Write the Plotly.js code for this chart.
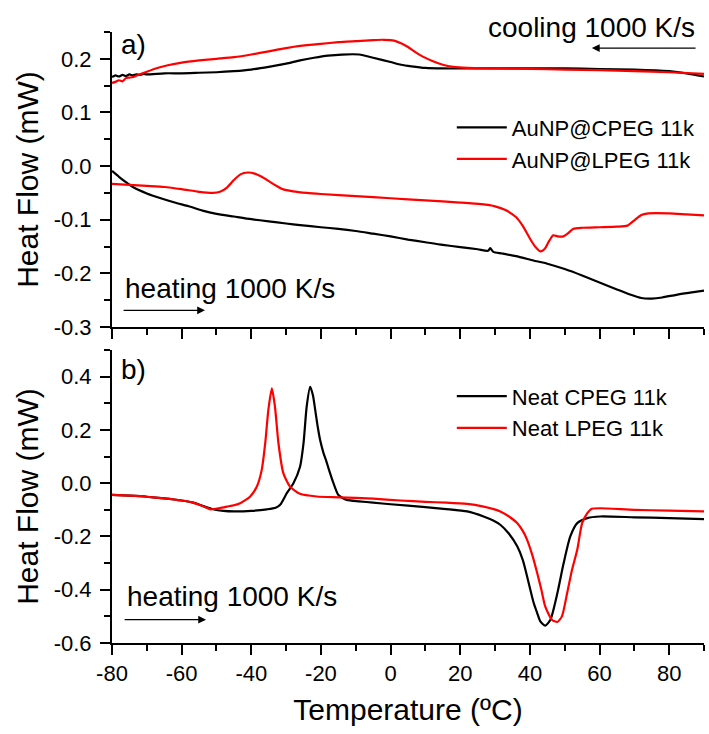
<!DOCTYPE html>
<html>
<head>
<meta charset="utf-8">
<script src="https://cdn.plot.ly/plotly-3.0.1.min.js"></script>
<style>html,body{margin:0;padding:0;background:#fff;}</style>
</head>
<body>
<div id="chart" style="width:709px;height:734px;"></div>
<script>
// ---- Panel a) cooling curves ----
var coolC_T = [-80,-79,-78,-77,-76,-75,-74,-73,-72,-71,-70,-65,-60,-55,-50,-45,-40,-35,-30,-26,-22,-18,-14,-9,-5,0,3,6,10,15,20,30,40,50,60,70,80,85,90];
var coolC_Y = [0.166,0.169,0.167,0.170,0.168,0.171,0.169,0.171,0.170,0.172,0.171,0.173,0.173,0.174,0.175,0.177,0.180,0.185,0.191,0.197,0.202,0.206,0.208,0.208,0.202,0.194,0.189,0.186,0.183,0.182,0.182,0.182,0.182,0.182,0.181,0.180,0.177,0.173,0.167];
var coolL_T = [-80,-79,-78,-77,-76,-75,-74,-72,-70,-67,-64,-60,-55,-50,-45,-40,-35,-30,-26,-20,-15,-10,-5,-2,1,3,5,7,9,12,15,18,22,30,40,50,60,70,80,90];
var coolL_Y = [0.155,0.157,0.160,0.158,0.164,0.165,0.166,0.171,0.176,0.183,0.188,0.193,0.197,0.200,0.203,0.208,0.214,0.220,0.224,0.228,0.231,0.233,0.235,0.2355,0.234,0.229,0.222,0.213,0.205,0.196,0.189,0.185,0.183,0.182,0.181,0.180,0.179,0.177,0.175,0.172];
// ---- Panel a) heating curves ----
var heatC_T = [-80,-78,-76,-74,-70,-66,-62,-58,-54,-50,-45,-40,-35,-30,-26,-20,-15,-10,-5,0,5,10,15,20,25,28,28.6,29.5,32,36,41,45,50,55,60,65,69,72,75,78,82,86,90];
var heatC_Y = [-0.009,-0.020,-0.030,-0.039,-0.051,-0.060,-0.068,-0.075,-0.083,-0.089,-0.094,-0.099,-0.103,-0.107,-0.110,-0.114,-0.117,-0.121,-0.126,-0.131,-0.137,-0.142,-0.147,-0.151,-0.155,-0.158,-0.153,-0.160,-0.163,-0.168,-0.176,-0.182,-0.192,-0.204,-0.217,-0.230,-0.240,-0.246,-0.247,-0.245,-0.240,-0.236,-0.232];
var heatL_T = [-80,-75,-70,-65,-60,-55,-51,-49,-47,-45,-43,-41,-39,-37,-35,-33,-31,-28,-24,-20,-10,0,10,20,26,30,33,36,38,40,41.5,43,44.3,45.5,46.7,48,49.6,51,52.5,55,60,65,68,70,72,74,80,85,90];
var heatL_Y = [-0.033,-0.035,-0.037,-0.039,-0.043,-0.048,-0.050,-0.048,-0.040,-0.026,-0.015,-0.012,-0.014,-0.020,-0.028,-0.036,-0.043,-0.047,-0.050,-0.052,-0.056,-0.060,-0.064,-0.068,-0.071,-0.075,-0.082,-0.095,-0.112,-0.135,-0.150,-0.159,-0.154,-0.140,-0.129,-0.131,-0.131,-0.125,-0.117,-0.115,-0.114,-0.113,-0.111,-0.101,-0.091,-0.088,-0.088,-0.090,-0.092];
// ---- Panel b) neat polymers ----
var neatC_T = [-80,-75,-70,-65,-60,-57,-55,-53,-51,-48,-45,-40,-35.5,-33,-31.7,-29.8,-27.9,-26,-25,-24.1,-23.1,-22.3,-21.7,-20.9,-20.2,-19.3,-18.5,-17.8,-16.4,-15,-12.6,-9,-5,0,10,16,22,26.7,29.6,31.5,34,36.4,38,39.2,41.1,42.1,43,44.4,45.9,47.9,49.7,51.6,53.6,56.5,60.2,70,80,90];
var neatC_Y = [-0.044,-0.047,-0.051,-0.057,-0.065,-0.072,-0.080,-0.090,-0.098,-0.104,-0.106,-0.104,-0.098,-0.092,-0.081,-0.0375,0.0,0.062,0.15,0.287,0.362,0.33,0.28,0.21,0.16,0.115,0.085,0.055,0.0,-0.044,-0.0625,-0.068,-0.073,-0.079,-0.090,-0.097,-0.106,-0.125,-0.141,-0.156,-0.190,-0.238,-0.290,-0.35,-0.45,-0.4875,-0.519,-0.535,-0.5125,-0.4125,-0.30,-0.20,-0.15,-0.131,-0.125,-0.128,-0.131,-0.135];
var neatL_T = [-80,-75,-70,-65,-60,-57,-55,-53,-51.8,-49,-47,-45,-43.2,-41.5,-40.3,-38.4,-37,-36,-35.1,-34.1,-33.2,-32.2,-30.8,-28.9,-26,-21.2,-15,-5,2.8,10,16,22,26.7,29.6,31.5,34,36.4,38,39.2,40.7,42.1,43.3,44.4,46.3,47.9,49.2,50.7,52.1,53.6,55,56.5,57.8,60.2,70,80,90];
var neatL_Y = [-0.044,-0.047,-0.051,-0.057,-0.065,-0.072,-0.081,-0.091,-0.098,-0.093,-0.088,-0.083,-0.075,-0.062,-0.05,-0.0125,0.05,0.15,0.275,0.356,0.287,0.15,0.0375,-0.0125,-0.04,-0.05,-0.053,-0.058,-0.065,-0.070,-0.073,-0.078,-0.088,-0.0975,-0.106,-0.125,-0.15,-0.18,-0.2125,-0.27,-0.3375,-0.40,-0.4625,-0.5125,-0.521,-0.5,-0.4125,-0.325,-0.25,-0.15,-0.1125,-0.096,-0.094,-0.100,-0.103,-0.106];

// ---- Tick labels ----
var xTickVals = [-80,-60,-40,-20,0,20,40,60,80];
var xTickText = ['-80','-60','-40','-20','0','20','40','60','80'];
var xMinorVals = [-70,-50,-30,-10,10,30,50,70,90];
var yaTickVals = [-0.3,-0.2,-0.1,0.0,0.1,0.2];
var yaTickText = ['-0.3','-0.2','-0.1','0.0','0.1','0.2'];
var yaMinorVals = [-0.25,-0.15,-0.05,0.05,0.15,0.25];
var ybTickVals = [-0.6,-0.4,-0.2,0.0,0.2,0.4];
var ybTickText = ['-0.6','-0.4','-0.2','0.0','0.2','0.4'];
var ybMinorVals = [-0.5,-0.3,-0.1,0.1,0.3,0.5];

var seriesNames = ['AuNP@CPEG 11k','AuNP@LPEG 11k','Neat CPEG 11k','Neat LPEG 11k'];
var BLACK = '#000000', RED = '#ff0000';
var FONT = '"Liberation Sans", Arial, Helvetica, sans-serif';

function ln(color){ return {color: color, width: 2.2, shape: 'spline', smoothing: 0.6}; }

var traces = [
  {x: coolC_T, y: coolC_Y, xaxis:'x', yaxis:'y', mode:'lines', line: ln(BLACK), showlegend:false, hoverinfo:'skip'},
  {x: coolL_T, y: coolL_Y, xaxis:'x', yaxis:'y', mode:'lines', line: ln(RED), showlegend:false, hoverinfo:'skip'},
  {x: heatC_T, y: heatC_Y, xaxis:'x', yaxis:'y', mode:'lines', line: ln(BLACK), name: seriesNames[0], legend:'legend'},
  {x: heatL_T, y: heatL_Y, xaxis:'x', yaxis:'y', mode:'lines', line: ln(RED), name: seriesNames[1], legend:'legend'},
  {x: neatC_T, y: neatC_Y, xaxis:'x2', yaxis:'y2', mode:'lines', line: ln(BLACK), name: seriesNames[2], legend:'legend2'},
  {x: neatL_T, y: neatL_Y, xaxis:'x2', yaxis:'y2', mode:'lines', line: ln(RED), name: seriesNames[3], legend:'legend2'}
];

function xAxis(anchor, labels){
  return {
    anchor: anchor, domain:[0,1], range:[-80,90], autorange:false,
    tickmode:'array', tickvals: xTickVals, ticktext: xTickText,
    showticklabels: labels,
    ticks:'outside', ticklen:10, tickwidth:2, tickcolor:BLACK,
    minor:{tickmode:'array', tickvals:xMinorVals, ticks:'outside', ticklen:6, tickwidth:2, tickcolor:BLACK},
    showline:true, linewidth:2, linecolor:BLACK, showgrid:false, zeroline:false,
    tickfont:{family:FONT, size:22, color:BLACK}
  };
}
function yAxis(anchor, domain, range, tv, tt, mv){
  return {
    anchor: anchor, domain: domain, range: range, autorange:false,
    tickmode:'array', tickvals: tv, ticktext: tt,
    ticks:'outside', ticklen:10, tickwidth:2, tickcolor:BLACK, ticklabelstandoff:4,
    minor:{tickmode:'array', tickvals:mv, ticks:'outside', ticklen:6, tickwidth:2, tickcolor:BLACK},
    showline:true, linewidth:2, linecolor:BLACK, showgrid:false, zeroline:false,
    tickfont:{family:FONT, size:22, color:BLACK},
    title:{text:'Heat Flow (mW)', font:{family:FONT, size:30, color:BLACK}, standoff: 6}
  };
}

var xa = xAxis('y', false);
xa.matches = 'x2';
var xb = xAxis('y2', true);
xb.title = {text:'Temperature (ºC)', font:{family:FONT, size:30, color:BLACK}, standoff: 14};

var annFont = {family:FONT, size:28, color:BLACK};
var legFont = {family:FONT, size:22, color:BLACK};
var layout = {
  width:709, height:734,
  margin:{l:112, r:5, t:32, b:91},
  paper_bgcolor:'#ffffff', plot_bgcolor:'#ffffff',
  font:{family:FONT, color:BLACK},
  xaxis: xa,
  yaxis: yAxis('x', [0.5172,1], [-0.3,0.25], yaTickVals, yaTickText, yaMinorVals),
  xaxis2: xb,
  yaxis2: yAxis('x2', [0,0.4795], [-0.6,0.5], ybTickVals, ybTickText, ybMinorVals),
  legend:{x:0.574, y:0.878, xanchor:'left', yanchor:'top', bgcolor:'rgba(0,0,0,0)', font:legFont, itemwidth:50, tracegroupgap:0},
  legend2:{x:0.574, y:0.438, xanchor:'left', yanchor:'top', bgcolor:'rgba(0,0,0,0)', font:legFont, itemwidth:50, tracegroupgap:0},
  annotations:[
    {text:'a)', xref:'paper', yref:'paper', x:0.0118, y:0.980, xanchor:'left', yanchor:'middle', showarrow:false, font:annFont},
    {text:'b)', xref:'paper', yref:'paper', x:0.0118, y:0.4484, xanchor:'left', yanchor:'middle', showarrow:false, font:annFont},
    {text:'cooling 1000 K/s', xref:'paper', yref:'paper', x:0.988, y:1.008, xanchor:'right', yanchor:'middle', showarrow:false, font:annFont},
    {text:'heating 1000 K/s', xref:'paper', yref:'paper', x:0.0186, y:0.581, xanchor:'left', yanchor:'middle', showarrow:false, font:annFont},
    {text:'heating 1000 K/s', xref:'paper', yref:'paper', x:0.022, y:0.0753, xanchor:'left', yanchor:'middle', showarrow:false, font:annFont},
    {text:'', xref:'x', yref:'y', x:-53.3, y:-0.269, axref:'x', ayref:'y', ax:-77.1, ay:-0.269, showarrow:true, arrowhead:2, arrowsize:1.3, arrowwidth:1.2, arrowcolor:BLACK, standoff:0},
    {text:'', xref:'x2', yref:'y2', x:-53.0, y:-0.5125, axref:'x2', ayref:'y2', ax:-76.8, ay:-0.5125, showarrow:true, arrowhead:2, arrowsize:1.3, arrowwidth:1.2, arrowcolor:BLACK, standoff:0},
    {text:'', xref:'x', yref:'y', x:57.8, y:0.22, axref:'x', ayref:'y', ax:88.0, ay:0.22, showarrow:true, arrowhead:2, arrowsize:1.3, arrowwidth:1.2, arrowcolor:BLACK, standoff:0}
  ],
  showlegend:true
};

Plotly.newPlot('chart', traces, layout, {displayModeBar:false, staticPlot:true});
</script>
</body>
</html>
